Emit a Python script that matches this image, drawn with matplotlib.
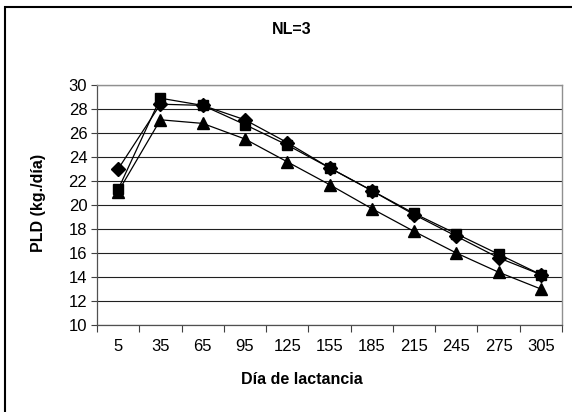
import matplotlib
matplotlib.use("Agg")
import matplotlib.pyplot as plt
from matplotlib.patches import Rectangle
import numpy as np

plt.rcParams['font.family'] = ['Liberation Sans', 'DejaVu Sans']

dias = ["5", "35", "65", "95", "125", "155", "185", "215", "245", "275", "305"]
serie_rombo = [23.0, 28.4, 28.3, 27.1, 25.2, 23.1, 21.2, 19.2, 17.4, 15.6, 14.2]
serie_cuadro = [21.3, 28.9, 28.3, 26.7, 25.0, 23.1, 21.2, 19.3, 17.6, 15.9, 14.2]
serie_triang = [21.1, 27.1, 26.8, 25.5, 23.6, 21.7, 19.7, 17.8, 16.0, 14.4, 13.0]
y_ticks = [10, 12, 14, 16, 18, 20, 22, 24, 26, 28, 30]

W, H = 572, 412
fig = plt.figure(figsize=(W / 100, H / 100), dpi=100)
fig.patch.set_facecolor("white")

# chart frame (extends past the right and bottom edges)
fig.patches.append(Rectangle((4.5 / W, -0.05), 1.2, 1 - 7 / H + 0.05,
                             transform=fig.transFigure, fill=False,
                             edgecolor="black", linewidth=1.5))

ax = fig.add_axes([97 / W, 1 - 325 / H, (562 - 97) / W, (325 - 85) / H])
x = np.arange(len(dias))

ax.plot(x, serie_rombo, color="black", linewidth=0.9, marker="D",
        markersize=7.5, markerfacecolor="black", markeredgecolor="black", zorder=3)
ax.plot(x, serie_cuadro, color="black", linewidth=0.9, marker="s",
        markersize=7.5, markerfacecolor="black", markeredgecolor="black", zorder=4)
ax.plot(x, serie_triang, color="black", linewidth=0.9, marker="^",
        markersize=8.5, markerfacecolor="black", markeredgecolor="black", zorder=5)

ax.set_xlim(-0.5, len(dias) - 0.5)
ax.set_ylim(10, 30)
ax.set_yticks(y_ticks)
ax.set_yticklabels([str(v) for v in y_ticks], fontsize=12)
ax.set_xticks(x)
ax.set_xticklabels(dias, fontsize=12)
ax.set_xticks(np.arange(-0.5, len(dias), 1.0), minor=True)
ax.tick_params(axis="x", which="major", length=0, pad=10)
ax.tick_params(axis="x", which="minor", length=5, width=0.8, color="#404040")
ax.tick_params(axis="y", which="major", length=4, width=0.8, color="#404040", pad=3)

ax.grid(axis="y", color="#202020", linewidth=0.8)
ax.set_axisbelow(True)
for side in ["top", "right"]:
    ax.spines[side].set_color("#909090")
    ax.spines[side].set_linewidth(1.0)
for side in ["left", "bottom"]:
    ax.spines[side].set_color("#505050")
    ax.spines[side].set_linewidth(0.9)

fig.text(292 / W, 1 - 30 / H, "NL=3", ha="center", va="center",
         fontsize=11.5, fontweight="bold")
fig.text(302 / W, 1 - 379 / H, "Día de lactancia", ha="center", va="center",
         fontsize=11.5, fontweight="bold")
fig.text(39 / W, 1 - 203 / H, "PLD (kg./día)", ha="center", va="center",
         fontsize=11.5, fontweight="bold", rotation=90)

fig.savefig("out.png", dpi=100, facecolor="white")
